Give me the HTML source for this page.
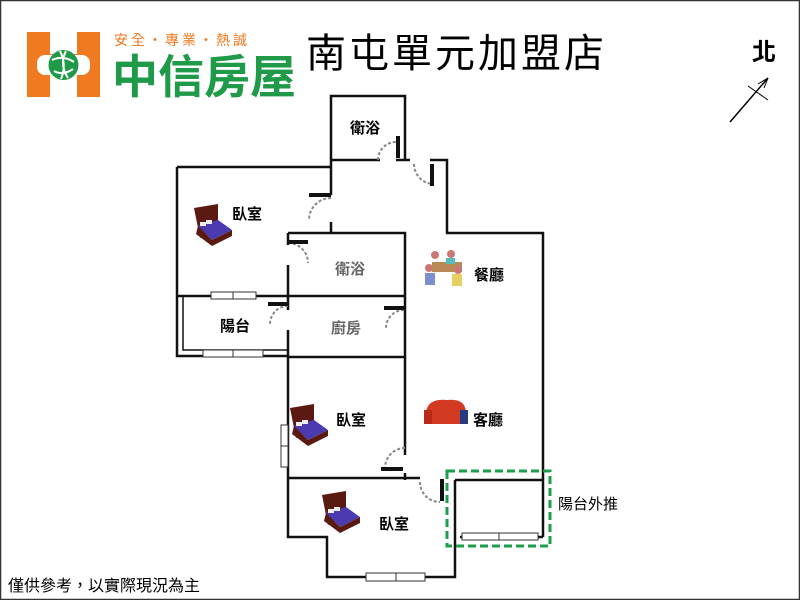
<!DOCTYPE html>
<html><head><meta charset="utf-8"><style>
body{margin:0;background:#fff}
svg{display:block}
text{font-family:"Liberation Sans","Noto Sans CJK TC",sans-serif}
</style></head><body>
<svg width="800" height="600" viewBox="0 0 800 600" xmlns="http://www.w3.org/2000/svg">
<rect x="0.5" y="0.5" width="799" height="599" fill="#fff" stroke="#333" stroke-width="1.5"/>
<!-- logo -->
<rect x="27" y="32" width="73" height="65" fill="#f07a22"/>
<rect x="50" y="32" width="27" height="22" fill="#fff"/>
<rect x="50" y="75" width="27" height="22" fill="#fff"/>
<rect x="37" y="55" width="53" height="20" rx="8" fill="#fff"/>
<circle cx="63.5" cy="65" r="15" fill="#1f9a48"/>
<path d="M52 60 Q63 55 74 62 M54 71 Q63 76 73 69 M60 51 Q67 65 61 79 M66 51 Q59 64 68 78" stroke="#fff" stroke-width="2" fill="none"/>
<text x="114" y="45" font-size="14" fill="#f07a22" letter-spacing="3">安全・專業・熱誠</text>
<text x="112" y="93" font-size="46" fill="#1f9a48" font-weight="bold">中信房屋</text>
<text x="306" y="67" font-size="40" fill="#000" letter-spacing="3">南屯單元加盟店</text>
<!-- north -->
<text x="752" y="60" font-size="24" fill="#000" font-weight="bold">北</text>
<line x1="730" y1="122" x2="768" y2="78" stroke="#000" stroke-width="1.5"/>
<line x1="748" y1="86" x2="768" y2="100" stroke="#000" stroke-width="1"/>
<path d="M768 78 L758 84 M768 78 L764 88" stroke="#000" stroke-width="1"/>
<!-- walls -->
<g stroke="#111" stroke-width="2.5" fill="none">
<path d="M331 160 V96 H405 V160"/>
<path d="M331 160 H380 M396 160 H410"/>
<path d="M430 160 H447 V233 H543 V537"/>
<path d="M331 160 V195 M331 222 V233"/>
<path d="M177 167 H331"/>
<path d="M177 167 V356 H288"/>
<path d="M183 296 V350 H288" stroke-width="1.5"/>
<path d="M177 296 H405"/>
<path d="M288 233 H405 V455 M405 473 V480"/>
<path d="M288 233 V245 M288 265 V310 M288 330 V478"/>
<path d="M288 357 H405"/>
<path d="M288 478 V537 H327 V577 H455 V480"/>
<path d="M288 478 H420"/>
<path d="M455 480 H543 M460 537 H543"/>
</g>
<!-- door swings -->
<g stroke="#888" stroke-width="2" fill="none" stroke-dasharray="3,2">
<path d="M378 160 A18 18 0 0 1 396 142"/>
<path d="M414 164 A20 20 0 0 0 434 184"/>
<path d="M331 198 A22 22 0 0 0 309 220"/>
<path d="M288 243 A20 20 0 0 1 308 263"/>
<path d="M288 306 A18 18 0 0 0 270 324"/>
<path d="M404 310 A18 18 0 0 0 386 328"/>
<path d="M405 448 A20 20 0 0 0 385 468"/>
<path d="M420 482 A20 20 0 0 0 440 502"/>
</g>
<g fill="#111">
<rect x="396" y="136" width="4" height="22"/>
<rect x="430" y="164" width="4" height="22"/>
<rect x="309" y="193" width="22" height="4"/>
<rect x="288" y="240" width="20" height="4"/>
<rect x="268" y="302" width="20" height="4"/>
<rect x="384" y="306" width="20" height="4"/>
<rect x="381" y="467" width="22" height="4"/>
<rect x="440" y="479" width="4" height="22"/>
</g>
<!-- windows -->
<g fill="#fff" stroke="#333" stroke-width="1">
<rect x="211" y="292" width="45" height="7"/><line x1="233" y1="292" x2="233" y2="299"/>
<rect x="203" y="350" width="60" height="7"/><line x1="233" y1="350" x2="233" y2="357"/>
<rect x="281" y="425" width="7" height="42"/><line x1="281" y1="446" x2="288" y2="446"/>
<rect x="366" y="573" width="59" height="8"/><line x1="396" y1="573" x2="396" y2="581"/>
<rect x="462" y="533" width="76" height="7"/><line x1="499" y1="533" x2="499" y2="540"/>
</g>
<rect x="447" y="471" width="103" height="75" fill="none" stroke="#1e9e4a" stroke-width="3" stroke-dasharray="8,4"/>
<!-- icons -->
<g id="bed">
<path d="M194 208 L218 204 L218 228 L200 238 Z" fill="#5a1a12"/>
<path d="M198 226 L218 220 L232 230 L212 240 Z" fill="#4b3bb0"/>
<path d="M198 226 L212 240 L212 246 L196 234 Z" fill="#5a1a12"/>
<path d="M212 240 L232 230 L232 236 L212 246 Z" fill="#5a1a12"/>
<rect x="200" y="222" width="6" height="4" fill="#eee"/><rect x="206" y="220" width="6" height="4" fill="#eee"/>
</g>
<use href="#bed" x="96" y="200"/>
<use href="#bed" x="128" y="287"/>
<path d="M426 412 Q428 398 447 400 Q465 398 466 412 L466 424 L428 424 Z" fill="#d23a24"/>
<rect x="424" y="410" width="8" height="14" fill="#b8291a"/><rect x="460" y="410" width="8" height="14" fill="#2a3a80"/>
<g>
<rect x="432" y="262" width="30" height="10" fill="#b88a55"/>
<circle cx="435" cy="255" r="4" fill="#c77"/><circle cx="451" cy="254" r="4" fill="#c77"/>
<circle cx="429" cy="268" r="4" fill="#c77"/><circle cx="458" cy="270" r="4" fill="#c77"/>
<rect x="425" y="273" width="10" height="12" fill="#7a8fd0"/><rect x="452" y="274" width="10" height="12" fill="#e6d060"/>
<rect x="446" y="258" width="9" height="6" fill="#5bb"/>
</g>
<!-- labels -->
<g font-size="15" font-weight="bold" fill="#000">
<text x="350" y="133">衛浴</text>
<text x="232" y="219">臥室</text>
<text x="335" y="274" fill="#666">衛浴</text>
<text x="474" y="280">餐廳</text>
<text x="220" y="331">陽台</text>
<text x="331" y="333" fill="#666">廚房</text>
<text x="336" y="425">臥室</text>
<text x="473" y="425">客廳</text>
<text x="379" y="529">臥室</text>
</g>
<text x="558" y="509" font-size="15" fill="#000">陽台外推</text>
<text x="8" y="591" font-size="16" fill="#000">僅供參考，以實際現況為主</text>
</svg>
</body></html>
